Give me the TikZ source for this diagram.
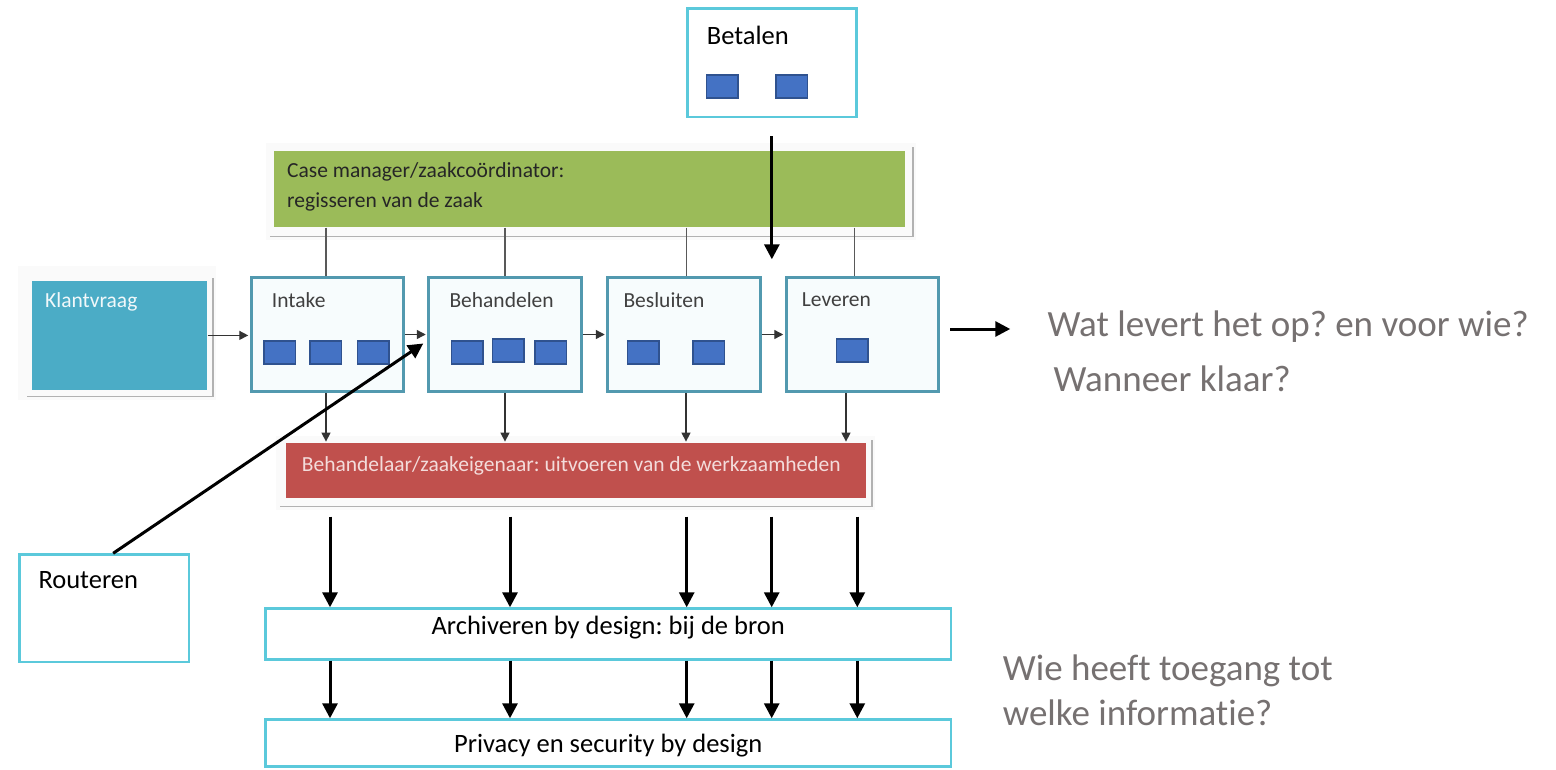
\documentclass[tikz,border=0pt]{standalone}
\usepackage{fontspec}
\setmainfont[Ligatures = NoCommon]{Carlito}
\usepackage{tikz}
\usetikzlibrary{
    arrows.meta, % Triangle tips on the arrows.
}
\frenchspacing

\definecolor{klantblue}{HTML}{4BACC6}
\definecolor{casegreen}{HTML}{9BBB59}
\definecolor{workred}{HTML}{C0504D}
\definecolor{stepline}{HTML}{5299AF}
\definecolor{stepfill}{HTML}{F7FCFD}
\definecolor{taskblue}{HTML}{4472C4}
\definecolor{taskline}{HTML}{2F528F}
\definecolor{framecyan}{HTML}{5BC9DB}
\definecolor{askgray}{HTML}{767171}

\begin{document}
\begin{tikzpicture}[%
        x = 1pt,
        y = -1pt,
        stepbox/.style = {draw = stepline, line width = 3pt, fill = stepfill,
            inner sep = 0pt, minimum width = 152.5pt, minimum height = 114.6pt},
        task/.style = {draw = taskline, line width = 1.5pt, fill = taskblue,
            inner sep = 0pt, minimum width = 31.5pt, minimum height = 23pt},
        cyanbox/.style = {draw = framecyan, line width = 2.5pt, fill = white, inner sep = 0pt},
        panel/.style = {inner sep = 0pt},
        shadowline/.style = {draw = black!30, line width = 1.5pt},
        halo/.style = {fill = black!2},
        smalltext/.style = {font = \fontsize{21.5}{26}\selectfont, inner sep = 0pt},
        midtext/.style = {font = \fontsize{26.5}{31}\selectfont, inner sep = 0pt},
        ask/.style = {font = \fontsize{37}{44}\selectfont, text = askgray, inner sep = 0pt},
        flow/.style = {-{Triangle[width = 9pt, length = 9pt]}, line width = 1.4pt,
            draw = black!80, shorten > = 1.5pt},
        casewire/.style = {line width = 1.2pt, draw = black!65},
        push/.style = {-{Triangle[width = 15pt, length = 15pt]}, line width = 3pt},
    ]

        % Page size and background.
        \path[use as bounding box, fill = white] (0, 0) rectangle (1556, 769);

        % Case manager bar with its shadow.
        \fill[halo] (266, 143) rectangle (916, 240);
        \draw[shadowline] (270, 236.7) -- (913, 236.7) -- (913, 147);
        \node[panel, fill = casegreen, minimum width = 631pt, minimum height = 76.6pt]
            (casebar) at (589.5, 189) {};
        \node[smalltext, anchor = west, text = black!85] (caseone) at (287, 171.7)
            {Case manager/zaakcoördinator:};
        \node[smalltext, anchor = west, text = black!85] (casetwo) at (287, 201.7)
            {regisseren van de zaak};

        % Klantvraag block with its shadow.
        \fill[halo] (18, 266) rectangle (216, 400);
        \draw[shadowline] (27, 396.7) -- (213, 396.7) -- (213, 278);
        \node[panel, fill = klantblue, minimum width = 175.6pt, minimum height = 109.3pt]
            (klant) at (119.5, 335.4) {};
        \node[smalltext, anchor = west, text = white!92!klantblue] (klanttxt) at (45, 301.7)
            {Klantvraag};

        % Behandelaar bar with its shadow.
        \fill[halo] (276, 436) rectangle (875, 510);
        \draw[shadowline] (280, 506.7) -- (872, 506.7) -- (872, 440);
        \node[panel, fill = workred, minimum width = 580pt, minimum height = 55pt]
            (workbar) at (576, 470.8) {};
        \node[smalltext, anchor = west, text = white!80!workred] (worktxt) at (301.7, 466)
            {Behandelaar/zaakeigenaar: uitvoeren van de werkzaamheden};

        % The four process steps.
        \node[stepbox] (intake) at (327.5, 334.5) {};
        \node[stepbox] (behandel) at (505, 334.5) {};
        \node[stepbox] (besluit) at (684, 334.5) {};
        \node[stepbox] (lever) at (862.5, 334.5) {};

        \node[smalltext, anchor = west, text = black!75] (intaketxt) at (271.7, 300) {Intake};
        \node[smalltext, anchor = west, text = black!75] (behandeltxt) at (449.3, 300) {Behandelen};
        \node[smalltext, anchor = west, text = black!75] (besluittxt) at (623.3, 300) {Besluiten};
        \node[smalltext, anchor = west, text = black!75] (levertxt) at (801.7, 300) {Leveren};

        % Blue task squares inside the steps.
        \node[task] (intakeA) at (279.7, 352.5) {};
        \node[task] (intakeB) at (325.5, 352.5) {};
        \node[task] (intakeC) at (373, 352.5) {};
        \node[task] (behandelA) at (467, 352.5) {};
        \node[task] (behandelB) at (508, 350.5) {};
        \node[task] (behandelC) at (550.8, 352.5) {};
        \node[task] (besluitA) at (643, 352.5) {};
        \node[task] (besluitB) at (708.5, 352.5) {};
        \node[task] (leverA) at (852.2, 350.5) {};

        % Wires between the bars and the steps.
        \draw[casewire] ([xshift = -1.5pt]intake.north |- casebar.south) -- ([xshift = -1.5pt]intake.north);
        \draw[casewire] (behandel.north |- casebar.south) -- (behandel.north);
        \draw[casewire] ([xshift = 2.7pt]besluit.north |- casebar.south) -- ([xshift = 2.7pt]besluit.north);
        \draw[casewire] ([xshift = -8pt]lever.north |- casebar.south) -- ([xshift = -8pt]lever.north);

        \draw[flow] (klant.east) -- (klant.east -| intake.west);
        \draw[flow] (intake) -- (behandel);
        \draw[flow] (behandel) -- (besluit);
        \draw[flow] (besluit) -- (lever);

        \draw[flow] ([xshift = -1.5pt]intake.south) -- ([xshift = -1.5pt]intake.south |- workbar.north);
        \draw[flow] (behandel.south) -- (behandel.south |- workbar.north);
        \draw[flow] ([xshift = 2pt]besluit.south) -- ([xshift = 2pt]besluit.south |- workbar.north);
        \draw[flow] ([xshift = -16.5pt]lever.south) -- ([xshift = -16.5pt]lever.south |- workbar.north);

        % Betalen and Routeren boxes.
        \node[cyanbox, minimum width = 169.2pt, minimum height = 108.5pt] (betalen) at (771.85, 62.8) {};
        \node[midtext, anchor = west] (betalentxt) at (706.7, 35) {Betalen};
        \node[task] (betalenA) at (722.35, 86.5) {};
        \node[task] (betalenB) at (791.65, 86.5) {};

        \node[cyanbox, minimum width = 169.2pt, minimum height = 107.5pt] (router) at (104.15, 608.3) {};
        \node[midtext, anchor = west] (routertxt) at (38.3, 580) {Routeren};

        \draw[push] ([yshift = -18pt]betalen.south) -- ++(0, 123);
        \draw[push] ([xshift = 9pt]router.north) -- ([xshift = -4pt, yshift = -9pt]behandel.west);
        \draw[push] ([xshift = 10pt, yshift = 5.5pt]lever.east) -- ++(60, 0);

        % Archiveren and privacy layers.
        \node[cyanbox, midtext, minimum width = 685.8pt, minimum height = 50.9pt,
            text height = 12pt, text depth = 12pt] (archief) at (608.2, 634)
            {Archiveren by design: bij de bron};
        \node[cyanbox, midtext, minimum width = 685.8pt, minimum height = 46.7pt,
            text height = 20pt, text depth = 0pt] (privacy) at (608.2, 742.9)
            {Privacy en security by design};

        \coordinate (workfoot) at (0, 516.7);
        \draw[push] (330, 0 |- workfoot) -- (330, 0 |- archief.north);
        \draw[push] (510, 0 |- workfoot) -- (510, 0 |- archief.north);
        \draw[push] (686.7, 0 |- workfoot) -- (686.7, 0 |- archief.north);
        \draw[push] (771.7, 0 |- workfoot) -- (771.7, 0 |- archief.north);
        \draw[push] (857.3, 0 |- workfoot) -- (857.3, 0 |- archief.north);

        \draw[push] (330, 0 |- archief.south) -- (330, 0 |- privacy.north);
        \draw[push] (510, 0 |- archief.south) -- (510, 0 |- privacy.north);
        \draw[push] (686.7, 0 |- archief.south) -- (686.7, 0 |- privacy.north);
        \draw[push] (771.7, 0 |- archief.south) -- (771.7, 0 |- privacy.north);
        \draw[push] (857.3, 0 |- archief.south) -- (857.3, 0 |- privacy.north);

        % Questions on the right.
        \node[ask, anchor = base west] (wat) at (1047.3, 336.7) {Wat levert het op? en voor wie?};
        \node[ask, anchor = base west] (klaar) at (1053.3, 391.7) {Wanneer klaar?};
        \node[ask, anchor = base west] (toegang) at (1002.7, 680) {Wie heeft toegang tot};
        \node[ask, anchor = base west] (informatie) at (1002.7, 725) {welke informatie?};
    \end{tikzpicture}
\end{document}
